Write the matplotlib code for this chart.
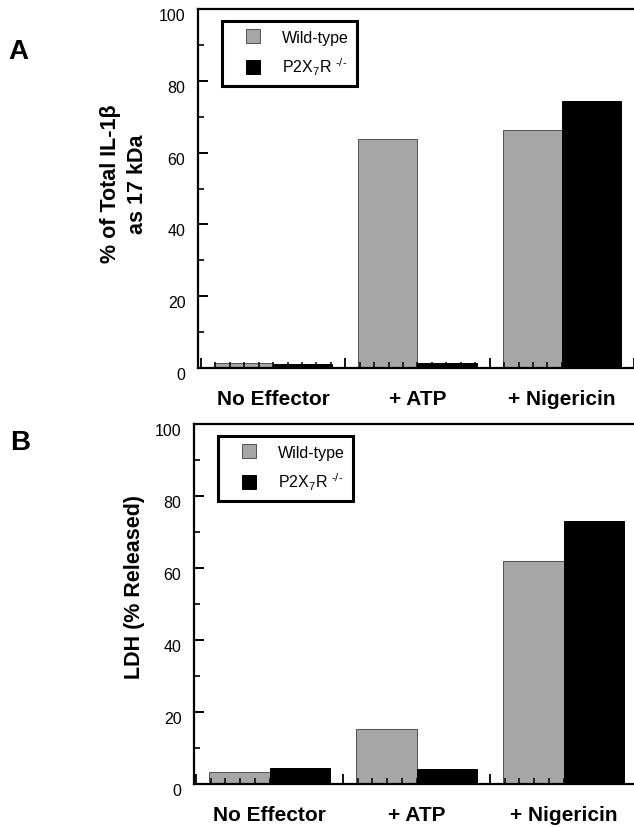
import matplotlib.pyplot as plt
import matplotlib.transforms as mtransforms
from matplotlib.patches import Rectangle
from matplotlib.legend_handler import HandlerPatch
from matplotlib.ticker import MultipleLocator, FixedLocator, NullFormatter

plt.rcParams['font.family'] = ['Liberation Sans', 'DejaVu Sans']
plt.rcParams['mathtext.fontset'] = 'custom'
plt.rcParams['mathtext.rm'] = 'Liberation Sans'
plt.rcParams['mathtext.it'] = 'Liberation Sans'

categories = ["No Effector", "+ ATP", "+ Nigericin"]
series_names = ["Wild-type", r"P2X$_7$R $^{\text{-/-}}$"]

# panel A: % of total IL-1beta as 17 kDa
il1b_wt = [1.3, 63.8, 66.3]
il1b_ko = [1.2, 1.3, 74.4]

# panel B: LDH released
ldh_wt = [3.3, 15.3, 62.0]
ldh_ko = [4.4, 4.2, 73.0]

GREY = "#a6a6a6"
W, H = 634, 828
fig = plt.figure(figsize=(W / 100, H / 100), dpi=100)


def px_axes(left, top, right, bottom):
    return fig.add_axes([left / W, 1 - bottom / H, (right - left) / W, (bottom - top) / H])


def square_patch(legend, orig_handle, xdescent, ydescent, width, height, fontsize):
    # square pushed to the right end of the handle box
    s = height
    return Rectangle((width - s - xdescent, -ydescent), s, s)


def draw_panel(ax, wt, ko, ylabel, label_xy, xlim):
    x = list(range(len(categories)))
    bw = 0.41
    ax.bar([i - bw / 2 for i in x], wt, width=bw, color=GREY, edgecolor="#505050",
           linewidth=0.7, zorder=1)
    ax.bar([i + bw / 2 for i in x], ko, width=bw, color="black", edgecolor="black",
           linewidth=0.7, zorder=1)
    ax.set_axisbelow(False)

    ax.set_xlim(*xlim)
    ax.set_ylim(0, 100)

    for s in ["left", "bottom", "top"]:
        ax.spines[s].set_linewidth(1.6)
    ax.spines["right"].set_visible(False)

    # y ticks
    ax.yaxis.set_major_locator(MultipleLocator(20))
    ax.yaxis.set_minor_locator(MultipleLocator(10))
    ax.tick_params(axis="y", which="major", direction="in", length=7, width=1.4,
                   labelsize=11.5, pad=9)
    ax.tick_params(axis="y", which="minor", direction="in", length=4, width=1.2)
    off = mtransforms.ScaledTranslation(0, -5 / 100, fig.dpi_scale_trans)
    for lab in ax.get_yticklabels():
        lab.set_transform(lab.get_transform() + off)

    # x ticks: group boundaries (major) and fine marks (minor)
    ax.xaxis.set_major_locator(FixedLocator([i + 0.5 for i in range(-1, len(categories))]))
    ax.xaxis.set_major_formatter(NullFormatter())
    ax.xaxis.set_minor_locator(FixedLocator([g + k / 10 for g in x for k in range(-4, 5)]))
    ax.xaxis.set_minor_formatter(NullFormatter())
    ax.tick_params(axis="x", which="major", direction="in", length=7, width=1.3)
    ax.tick_params(axis="x", which="minor", direction="in", length=4.5, width=1.1,
                   color="black")
    ax.tick_params(axis="both", which="both", top=False, right=False)

    sec = ax.secondary_xaxis("bottom")
    sec.set_xticks(x)
    sec.set_xticklabels(categories, fontsize=15, fontweight="bold")
    sec.tick_params(length=0, pad=15)
    sec.spines["bottom"].set_visible(False)

    ax.set_ylabel(ylabel, fontsize=15.5, fontweight="bold", linespacing=1.35)
    ax.yaxis.set_label_coords(*label_xy)

    handles = [Rectangle((0, 0), 1, 1, facecolor=GREY, edgecolor="#505050", linewidth=0.7),
               Rectangle((0, 0), 1, 1, facecolor="black", edgecolor="black", linewidth=0.7)]
    leg = ax.legend(handles, series_names, loc="upper left", bbox_to_anchor=(0.055, 0.967),
                    frameon=True, fancybox=False, edgecolor="black", framealpha=1,
                    fontsize=11.5, handlelength=1.85, handleheight=0.95, handletextpad=1.35,
                    labelspacing=0.7, borderpad=0.53, borderaxespad=0,
                    handler_map={Rectangle: HandlerPatch(patch_func=square_patch)})
    leg.get_frame().set_linewidth(2.2)


axA = px_axes(198, 10, 634, 369)
draw_panel(axA, il1b_wt, il1b_ko, "% of Total IL-1\u03b2\nas 17 kDa",
           (-0.115, 0.515), (-0.52, 2.5))

axB = px_axes(194, 425, 634, 785)
draw_panel(axB, ldh_wt, ldh_ko, "LDH (% Released)",
           (-0.112, 0.55), (-0.514, 2.479))

fig.text(8 / W, 1 - 52 / H, "A", fontsize=20, fontweight="bold", va="center")
fig.text(10 / W, 1 - 443 / H, "B", fontsize=20, fontweight="bold", va="center")

fig.savefig("out.png", dpi=100)
